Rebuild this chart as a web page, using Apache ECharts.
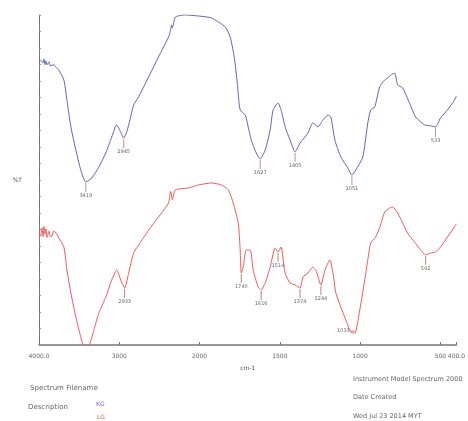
<!DOCTYPE html>
<html><head><meta charset="utf-8">
<script src="https://cdn.jsdelivr.net/npm/echarts@6/dist/echarts.min.js"></script>
<style>html,body{margin:0;padding:0;background:#fff}#c{width:468px;height:421px}</style>
</head><body><div id="c"></div>
<script>
// Wavenumbers (cm-1) and %T
const blueWavenumbers = [4000,3975,3950,3938,3925,3913,3900,3876,3860,3839,3815,3789,3752,3690,3652,3603,3541,3479,3417,3342,3255,3168,3094,3032,2982,2945,2908,2858,2821,2759,2635,2511,2387,2360,2349,2340,2300,2176,2014,1926,1840,1809,1784,1765,1747,1715,1697,1678,1647,1622,1591,1560,1542,1511,1492,1467,1436,1405,1374,1325,1294,1262,1231,1200,1182,1157,1120,1076,1051,1027,983,952,934,909,878,847,828,809,785,766,735,692,654,598,561,530,499,456,412,400];
const blueTransmittance = [85.8,86.2,85.5,86.6,85.0,86.1,84.9,85.8,84.6,84.8,84.9,84.2,83.3,80.3,74.2,66.1,59.1,53.0,49.4,50.6,53.9,58.2,63.0,66.7,64.5,62.7,64.5,69.1,72.7,75.2,81.2,87.3,93.3,95.5,97.0,96.0,99.4,100,99.7,99.1,96.4,93.3,87.3,79.4,71.2,69.7,66.1,62.1,58.2,56.4,59.1,65.2,71.2,73.3,71.2,66.1,62.1,58.5,61.2,64.2,67.3,66.1,68.2,69.7,69.1,62.1,57.0,53.6,51.5,53.0,57.0,67.3,71.2,72.1,78.2,80.3,80.9,81.8,82.4,78.8,77.9,73.3,69.1,66.7,66.4,66.1,68.8,71.2,74.2,75.5];
const redWavenumbers = [4000,3980,3963,3950,3938,3926,3913,3900,3876,3860,3839,3815,3789,3752,3690,3652,3603,3541,3479,3442,3380,3317,3255,3168,3094,3032,2982,2933,2883,2821,2759,2635,2511,2387,2360,2349,2340,2300,2138,2014,1926,1864,1821,1790,1759,1747,1740,1728,1709,1684,1666,1635,1616,1591,1560,1529,1511,1492,1467,1436,1405,1374,1356,1325,1294,1275,1244,1219,1188,1169,1151,1120,1089,1058,1033,1002,971,952,934,903,872,847,816,797,766,735,704,661,623,592,561,530,499,456,412,400];
const redTransmittance = [34.2,33.0,35.5,32.8,35.9,33.6,35.2,32.6,34.5,32.9,33.0,34.6,33.9,32.4,29.7,22.7,15.8,8.5,2.4,0,0,4.5,9.7,14.5,19.7,22.7,19.7,17.3,21.8,27.9,30.3,34.8,38.8,43.0,46.5,45.5,44.0,47.0,47.6,48.5,49.1,48.5,47.0,43.0,37.0,28.8,21.8,23.6,28.8,28.8,22.7,17.6,16.7,18.8,23.6,29.4,28.2,29.7,21.8,18.8,18.2,17.3,20.6,21.8,23.6,22.7,18.2,22.7,25.8,21.8,15.8,11.5,7.6,3.9,3.6,10.6,19.7,25.8,30.9,32.7,36.4,40.3,41.5,41.8,40.0,37.0,33.9,31.2,28.8,27.3,27.9,28.2,29.7,32.7,35.8,36.7];
const bluePeakWavenumbers = [3417,2945,1622,1405,1051,530];
const bluePeakTransmittance = [49.4,62.7,56.4,58.5,51.5,66.1];
const bluePeakLabels = ["3419","2945","1627","1405","1051","533"];
const redPeakWavenumbers = [2933,1740,1616,1511,1374,1244,1033,592];
const redPeakTransmittance = [17.3,21.8,16.7,28.2,17.3,18.2,3.6,27.3];
const redPeakLabels = ["2933","1740","1616","1514","1374","1244","1033","592"];
const xTickWavenumbers = [4000,3000,2000,1500,1000,500,400];
const xTickLabels = ["4000.0","3000","2000","1500","1000","500","400.0"];

// Spectrum 2000 style broken scale: 4000-2000 compressed x2
const pos = w => w >= 2000 ? (4000 - w) / 2 : 1000 + (2000 - w);
const zip = (ws, ts) => ws.map((w, i) => [pos(w), ts[i]]);

function peakSeries(ws, ts, labels, lineColor) {
  return {
    type: 'custom', silent: true, z: 5,
    data: ws.map((w, i) => [pos(w), ts[i], labels[i]]),
    renderItem: function (params, api) {
      const p = api.coord([api.value(0), api.value(1)]);
      const label = labels[params.dataIndex];
      const nearAxis = api.value(1) < 6;
      if (nearAxis) {
        return {
          type: 'group', children: [
            { type: 'line', shape: { x1: p[0], y1: p[1] - 2, x2: p[0] - 4, y2: p[1] - 2 }, style: { stroke: lineColor, lineWidth: 0.8 } },
            { type: 'text', style: { text: label, x: p[0] - 5, y: p[1] - 2, fontSize: 5, fill: '#666', align: 'right', verticalAlign: 'middle', fontFamily: 'DejaVu Sans' } }
          ]
        };
      }
      return {
        type: 'group', children: [
          { type: 'line', shape: { x1: p[0], y1: p[1] + 1, x2: p[0], y2: p[1] + 10 }, style: { stroke: lineColor, lineWidth: 0.8 } },
          { type: 'text', style: { text: label, x: p[0], y: p[1] + 11, fontSize: 5, fill: '#666', align: 'center', verticalAlign: 'top', fontFamily: 'DejaVu Sans' } }
        ]
      };
    }
  };
}

const chart = echarts.init(document.getElementById('c'), null, { renderer: 'canvas' });
const gray = '#777';
chart.setOption({
  animation: false,
  backgroundColor: '#fff',
  grid: { left: 39, right: 9, top: 15, bottom: 76 },
  xAxis: {
    type: 'value', min: 0, max: 2600,
    name: 'cm-1', nameLocation: 'middle', nameGap: 20,
    nameTextStyle: { fontSize: 6, color: '#555', fontFamily: 'DejaVu Sans' },
    axisLine: { show: true, lineStyle: { color: gray, width: 1.5 } },
    axisTick: { show: true, length: 3, inside: true, customValues: xTickWavenumbers.map(pos), lineStyle: { color: gray } },
    minorTick: { show: false },
    axisLabel: {
      customValues: xTickWavenumbers.map(pos),
      formatter: v => { const i = xTickWavenumbers.map(pos).indexOf(v); return i >= 0 ? xTickLabels[i] : ''; },
      fontSize: 6, color: '#666', margin: 8, fontFamily: 'DejaVu Sans'
    },
    splitLine: { show: false }
  },
  yAxis: {
    type: 'value', min: 0, max: 100, interval: 5,
    name: '%T', nameLocation: 'middle', nameGap: 17, nameRotate: 0,
    nameTextStyle: { fontSize: 6, color: '#555', fontFamily: 'DejaVu Sans' },
    axisLine: { show: true, lineStyle: { color: gray } },
    axisTick: { show: true, inside: true, length: 2, lineStyle: { color: '#999' } },
    axisLabel: { show: false },
    splitLine: { show: false }
  },
  series: [
    { type: 'line', data: zip(blueWavenumbers, blueTransmittance), symbol: 'none', smooth: 0.2, lineStyle: { color: '#6464bc', width: 1 }, clip: true },
    { type: 'line', data: zip(redWavenumbers, redTransmittance), symbol: 'none', smooth: 0.2, lineStyle: { color: '#f25a5a', width: 1 }, clip: true },
    peakSeries(bluePeakWavenumbers, bluePeakTransmittance, bluePeakLabels, '#c07070'),
    peakSeries(redPeakWavenumbers, redPeakTransmittance, redPeakLabels, '#b06060')
  ],
  graphic: [
    { type: 'text', left: 30, top: 385, style: { text: 'Spectrum Filename', fontSize: 7, fill: '#666', fontFamily: 'DejaVu Sans' } },
    { type: 'text', left: 28, top: 404, style: { text: 'Description', fontSize: 7, fill: '#666', fontFamily: 'DejaVu Sans' } },
    { type: 'text', left: 96, top: 401, style: { text: 'KG', fontSize: 6, fill: '#6a6ad0', fontFamily: 'DejaVu Sans' } },
    { type: 'text', left: 97, top: 414, style: { text: 'LG', fontSize: 6, fill: '#e05a3a', fontFamily: 'DejaVu Sans' } },
    { type: 'text', left: 353, top: 376, style: { text: 'Instrument Model Spectrum 2000', fontSize: 6.5, fill: '#666', fontFamily: 'DejaVu Sans' } },
    { type: 'text', left: 353, top: 394, style: { text: 'Date Created', fontSize: 6.5, fill: '#666', fontFamily: 'DejaVu Sans' } },
    { type: 'text', left: 353, top: 413, style: { text: 'Wed Jul 23 2014 MYT', fontSize: 6.5, fill: '#666', fontFamily: 'DejaVu Sans' } }
  ]
});
</script></body></html>
